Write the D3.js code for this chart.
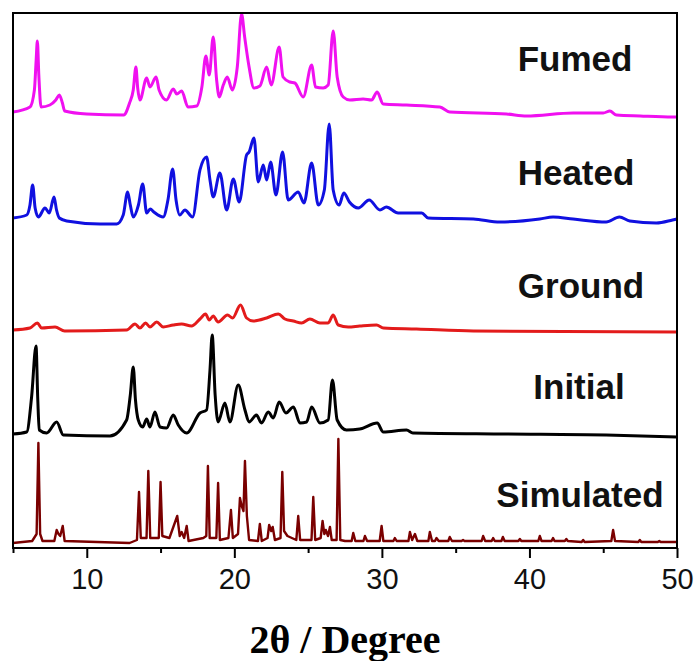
<!DOCTYPE html>
<html>
<head>
<meta charset="utf-8">
<script src="https://cdn.jsdelivr.net/npm/d3@7"></script>
<style>
  body { margin: 0; background: #fff; }
  svg { display: block; }
</style>
</head>
<body>
<script>
// XRD patterns, [2theta, intensity (a.u., stacking offset included)]
var fumed = [[5.0,434],[6.15,439],[6.45,456],[6.57,486],[6.65,505],[6.75,471],[6.9,439],[7.5,441],[7.9,446],[8.14,451],[8.35,443],[8.5,435],[10,432],[12.5,431],[12.9,443],[13.15,456],[13.33,479],[13.45,458],[13.6,446],[14.06,468],[14.28,459],[14.7,469],[14.9,456],[15.4,446],[15.86,457],[16.1,452],[16.43,455],[16.86,439],[17.45,440],[17.8,459],[18.07,490],[18.3,471],[18.57,509],[18.8,466],[18.98,449],[19.25,461],[19.52,469],[19.86,456],[20.2,479],[20.49,532],[20.7,509],[21.0,479],[21.33,458],[21.73,460],[22.19,479],[22.5,461],[23.04,499],[23.3,469],[23.77,464],[24.1,463],[24.67,449],[25.24,481],[25.5,459],[26.02,458],[26.36,461],[26.7,515],[26.97,469],[27.38,449],[27.83,446],[28.73,447],[29.3,446],[29.68,454],[30.09,442],[31.67,441],[33.93,439],[34.6,434],[38.45,432],[39.8,430],[42.96,433],[45.0,433],[45.45,435],[45.9,431],[47.5,430],[49.7,429],[50,429]];

var heated = [[5.0,328],[5.93,331],[6.15,341],[6.33,361],[6.5,338],[6.72,329],[7.17,338],[7.46,333],[7.78,349],[7.95,336],[8.14,328],[8.64,325],[10.9,322],[12.03,322],[12.47,331],[12.77,354],[12.95,341],[13.15,329],[13.5,341],[13.79,362],[14.06,333],[14.3,337],[14.55,334],[15.18,329],[15.5,346],[15.82,377],[16.05,346],[16.3,331],[16.65,336],[17.17,329],[17.67,376],[18.12,389],[18.35,366],[18.57,349],[19.02,373],[19.48,336],[19.93,367],[20.33,344],[20.83,391],[21.0,394],[21.33,408],[21.62,364],[21.96,381],[22.19,366],[22.46,384],[22.82,351],[23.27,394],[23.65,346],[24.33,354],[24.72,343],[25.24,383],[25.69,341],[26.1,356],[26.43,422],[26.7,356],[27.1,341],[27.42,353],[27.8,344],[28.4,338],[29.14,346],[29.87,336],[30.3,339],[31.1,333],[32.7,333],[33.14,328],[36.2,327],[38,324],[40.7,327],[41.6,329],[42.96,327],[45.2,324],[46.1,329],[46.8,325],[48.6,323],[49.7,326],[50,327]];

var ground = [[5.0,216],[6.15,218],[6.65,223],[6.94,218],[7.85,219],[8.5,215],[12.7,216],[13.27,222],[13.6,218],[13.99,223],[14.28,219],[14.74,224],[15.18,219],[15.86,221],[16.43,222],[17.1,220],[17.67,227],[18.05,232],[18.3,226],[18.57,230],[18.9,224],[19.54,231],[19.88,228],[20.42,241],[20.83,228],[21.28,225],[22.19,228],[22.98,232],[23.43,227],[24.0,225],[24.56,223],[25.12,227],[25.8,223],[26.36,223],[26.7,231],[27.04,221],[27.72,219],[28.5,220],[29.64,221],[30.1,218],[32.35,217],[36.2,215],[50,214]];

var initial = [[5.0,112],[5.93,114],[6.26,149],[6.56,200],[6.68,146],[6.78,116],[7.28,113],[7.96,124],[8.41,111],[11.57,110],[12.7,126],[12.95,151],[13.15,179],[13.3,146],[13.49,126],[13.79,119],[14.06,127],[14.28,119],[14.62,134],[14.96,119],[15.41,118],[15.86,131],[16.2,121],[16.77,113],[17.67,133],[18.12,136],[18.35,176],[18.5,211],[18.7,151],[18.9,124],[19.36,143],[19.7,124],[20.26,161],[20.72,136],[21.0,124],[21.5,131],[21.84,123],[22.3,134],[22.64,128],[23.04,144],[23.5,133],[24.0,139],[24.45,123],[24.9,124],[25.24,139],[25.8,123],[26.36,126],[26.65,166],[26.97,126],[27.6,116],[28.5,117],[29.68,123],[30.1,114],[31.67,116],[32.1,113],[38.45,112],[45.2,111],[50,109]];

var simulated = [[5.0,3],[6.3,5],[6.6,12],[6.72,103],[6.84,12],[7.0,5],[7.8,5],[7.96,16],[8.08,12],[8.2,10],[8.37,20],[8.5,5],[12.9,3],[13.4,6],[13.54,54],[13.66,8],[14.05,8],[14.17,75],[14.3,8],[14.88,8],[15.0,64],[15.12,10],[15.6,8],[16.13,30],[16.3,10],[16.43,14],[16.6,8],[16.77,20],[16.9,5],[17.9,8],[18.1,10],[18.21,80],[18.33,8],[18.78,8],[18.9,63],[19.02,6],[19.6,8],[19.77,36],[19.9,8],[20.25,12],[20.38,48],[20.5,40],[20.62,35],[20.72,85],[20.85,30],[21.0,6],[21.6,5],[21.73,22],[21.86,5],[22.25,8],[22.36,21],[22.5,15],[22.6,19],[22.75,6],[23.13,8],[23.25,74],[23.37,15],[23.6,10],[24.2,6],[24.33,30],[24.46,6],[25.23,6],[25.35,49],[25.48,6],[25.85,8],[25.98,25],[26.1,12],[26.2,16],[26.35,10],[26.48,19],[26.6,6],[26.93,6],[27.05,107],[27.18,6],[27.5,5],[27.95,5],[28.06,13],[28.2,5],[28.75,5],[28.85,10],[29.0,5],[29.85,5],[29.98,20],[30.1,5],[30.78,5],[30.88,8],[31.0,5],[31.8,5],[31.9,14],[32.05,6],[32.24,12],[32.4,5],[33.15,5],[33.25,14],[33.4,5],[33.6,5],[33.7,8],[33.85,5],[34.5,5],[34.6,9],[34.75,5],[35.4,5],[35.5,6],[35.6,5],[36.76,5],[36.86,10],[37.0,5],[37.44,5],[37.54,8],[37.65,5],[38.1,5],[38.2,9],[38.32,5],[39.25,5],[39.35,7],[39.45,5],[40.6,5],[40.7,10],[40.82,5],[41.5,5],[41.6,8],[41.7,5],[42.4,5],[42.5,7],[42.6,5],[43.54,4],[43.64,6],[43.74,4],[45.55,5],[45.67,16],[45.8,5],[47.38,4],[47.48,6],[47.58,4],[48.7,4],[48.8,5],[48.9,4],[50,4]];

var seriesNames = ["Fumed", "Heated", "Ground", "Initial", "Simulated"];
var seriesData = [fumed, heated, ground, initial, simulated];
var majorTicks = [10, 20, 30, 40, 50];
var minorTicks = [5, 15, 25, 35, 45];

// styling / layout
var colors = ["#f010f0", "#1010e0", "#e31b1b", "#000000", "#7a0000"];
var labelPos = [[575, 71], [576, 185], [581, 298], [579, 399], [580, 507]];

var W = 698, H = 661;
var plot = {left: 13, right: 677, top: 13, bottom: 548};

var svg = d3.select("body").append("svg")
    .attr("width", W)
    .attr("height", H);

var x = d3.scaleLinear().domain([5, 50]).range([plot.left, plot.right]);
var y = d3.scaleLinear().domain([-2, 533]).range([plot.bottom, plot.top]);

// measured patterns look smooth, the simulated one is spiky
var smoothLine = d3.line()
    .curve(d3.curveMonotoneX)
    .x(function(d) { return x(d[0]); })
    .y(function(d) { return y(d[1]); });
var sharpLine = d3.line()
    .x(function(d) { return x(d[0]); })
    .y(function(d) { return y(d[1]); });

// traces
svg.selectAll("path.trace")
    .data(seriesData)
  .enter().append("path")
    .attr("class", "trace")
    .attr("d", function(d, i) { return i == 4 ? sharpLine(d) : smoothLine(d); })
    .attr("fill", "none")
    .attr("stroke", function(d, i) { return colors[i]; })
    .attr("stroke-width", function(d, i) { return i == 4 ? 2.4 : 3; })
    .attr("stroke-linejoin", "round");

// frame
svg.append("rect")
    .attr("x", plot.left)
    .attr("y", plot.top)
    .attr("width", plot.right - plot.left)
    .attr("height", plot.bottom - plot.top)
    .attr("fill", "none")
    .attr("stroke", "#000")
    .attr("stroke-width", 2);

// x axis, major ticks with labels
var xAxis = svg.append("g")
    .attr("transform", "translate(0," + plot.bottom + ")")
    .call(d3.axisBottom(x).tickValues(majorTicks).tickSize(10).tickSizeOuter(0).tickPadding(10));
xAxis.select(".domain").remove();
xAxis.selectAll(".tick line").attr("stroke-width", 2);
xAxis.selectAll(".tick text")
    .attr("font-family", "'Liberation Sans', Arial, sans-serif")
    .attr("font-size", 29)
    .attr("fill", "#111");

// minor ticks
var xMinor = svg.append("g")
    .attr("transform", "translate(0," + plot.bottom + ")")
    .call(d3.axisBottom(x).tickValues(minorTicks).tickSize(5).tickSizeOuter(0).tickFormat(""));
xMinor.select(".domain").remove();
xMinor.selectAll(".tick line").attr("stroke-width", 2);

// axis title
svg.append("text")
    .attr("x", 345)
    .attr("y", 653)
    .attr("text-anchor", "middle")
    .attr("font-family", "'Liberation Serif', 'Times New Roman', serif")
    .attr("font-weight", "bold")
    .attr("font-size", 40)
    .text("2θ / Degree");

// series labels
svg.selectAll("text.label")
    .data(seriesNames)
  .enter().append("text")
    .attr("class", "label")
    .attr("x", function(d, i) { return labelPos[i][0]; })
    .attr("y", function(d, i) { return labelPos[i][1]; })
    .attr("text-anchor", "middle")
    .attr("font-family", "'Liberation Sans', Arial, sans-serif")
    .attr("font-weight", "bold")
    .attr("font-size", 35)
    .attr("fill", "#111")
    .text(function(d) { return d; });
</script>
</body>
</html>
